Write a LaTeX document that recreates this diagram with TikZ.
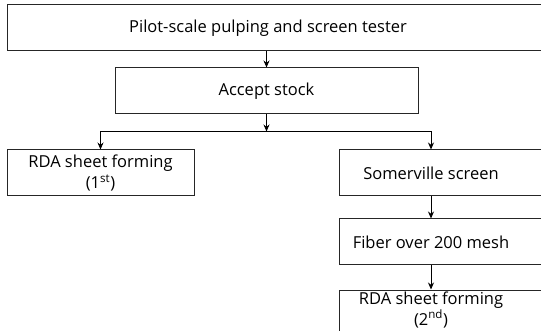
\documentclass[tikz,border=0pt]{standalone}
\usepackage{fontspec}
\setmainfont{Open Sans}
\usetikzlibrary{positioning, calc, arrows.meta}

\begin{document}
\begin{tikzpicture}[x=1pt, y=1pt, font=\fontsize{16.5}{21}\selectfont,
    box/.style={draw=black!85, line width=1pt, minimum height=46pt, inner sep=0pt, align=center},
    link/.style={->, line width=0.9pt},
    >={Stealth[length=7pt, width=6pt]}]
    \useasboundingbox (0,0) rectangle (541,-331);
    \clip (0,0) rectangle (541,-331);

    \node (tester)     [box, minimum width=541pt,
        label={[name=testertxt, xshift=-9.5pt]center:Pilot-scale pulping and screen tester}] at (277.5,-28) {};
    \node (accept)     [box, minimum width=303pt] at (266.5,-91) {Accept stock};
    \node (rdafirst)   [box, minimum width=187pt] at (100.5,-173) {RDA sheet forming\\(1\textsuperscript{st})};

    \node (somerville) [box, minimum width=209pt,
        label={[name=somervilletxt, xshift=-12.5pt]center:Somerville screen}] at (443.5,-173) {};
    \node (fiber)      [box, minimum width=209pt, below=22pt of somerville,
        label={[name=fibertxt, xshift=-12.5pt]center:Fiber over 200 mesh}] {};
    \node (rdasecond)  [box, minimum width=209pt, below=24pt of fiber,
        label={[name=rdasecondtxt, xshift=-12.5pt, yshift=3.5pt, align=center]center:RDA sheet forming\\(2\textsuperscript{nd})}] {};

    \coordinate (split) at ($(accept.south)+(0,-17)$);

    \draw[link] (tester.south -| accept) -- (accept);
    \draw[link] (accept) -- (split);

    \draw[link] (split) -| (rdafirst);
    \draw[link] (split) -| (somervilletxt |- somerville.north);

    \draw[link] (somervilletxt |- somerville.south) -- (somervilletxt |- fiber.north);
    \draw[link] (fibertxt |- fiber.south)           -- (fibertxt |- rdasecond.north);
\end{tikzpicture}
\end{document}
